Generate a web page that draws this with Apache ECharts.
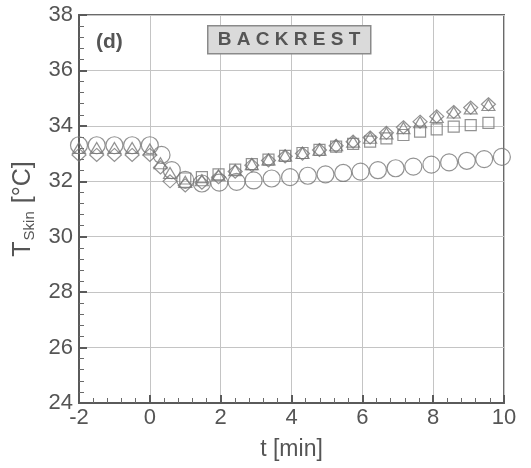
<!DOCTYPE html>
<html><head><meta charset="utf-8">
<script src="https://cdn.jsdelivr.net/npm/echarts@6/dist/echarts.min.js"></script>
<style>html,body{margin:0;padding:0;background:#fff}#c{width:531px;height:468px}</style>
</head><body><div id="c"></div>
<script>
// time stamps [min]
const tCircle = [-2,-1.5,-1,-0.5,0,0.33,0.62,1.0,1.47,1.96,2.45,2.93,3.44,3.96,4.46,4.96,5.46,5.95,6.44,6.94,7.44,7.95,8.45,8.95,9.44,9.94];
const tOther  = [-2,-1.5,-1,-0.5,0,0.3,0.57,1.0,1.47,1.94,2.41,2.88,3.35,3.82,4.31,4.79,5.26,5.74,6.22,6.68,7.16,7.63,8.1,8.58,9.06,9.56];
const tSquare = [1.0,1.47,1.94,2.41,2.88,3.35,3.82,4.31,4.79,5.26,5.74,6.22,6.68,7.16,7.63,8.1,8.58,9.06,9.56];
// skin temperatures [°C]
const circleVals   = [33.3,33.3,33.3,33.3,33.3,32.95,32.4,32.05,31.92,31.95,31.98,32.03,32.1,32.15,32.2,32.25,32.3,32.35,32.4,32.47,32.53,32.6,32.68,32.74,32.8,32.88];
const triangleVals = [33.2,33.2,33.2,33.2,33.15,32.65,32.3,31.98,32.04,32.22,32.4,32.62,32.79,32.93,33.02,33.14,33.3,33.43,33.57,33.73,33.92,34.13,34.32,34.48,34.63,34.75];
const diamondVals  = [32.95,32.95,32.95,32.95,32.95,32.5,32.0,31.85,31.95,32.15,32.35,32.58,32.75,32.9,33.0,33.13,33.28,33.43,33.58,33.75,33.95,34.15,34.34,34.5,34.66,34.78];
const squareVals   = [32.1,32.15,32.25,32.42,32.62,32.78,32.92,33.02,33.13,33.25,33.35,33.43,33.55,33.67,33.79,33.87,33.97,34.03,34.11];
const xTicks = [-2,0,2,4,6,8,10];
const yTicks = [24,26,28,30,32,34,36,38];
const panelLabel = '(d)';
const boxLabel = 'B A C K R E S T';

const pairs = (xs, ys) => xs.map((x, i) => [x, ys[i]]);
const FONT = '"Liberation Sans", Arial, sans-serif';
const TXT = '#555555';
const MK = '#777777';
const hollow = {color: 'rgba(0,0,0,0)', borderColor: MK, borderWidth: 1.2};

const chart = echarts.init(document.getElementById('c'), null, {renderer: 'canvas'});
chart.setOption({
  animation: false,
  backgroundColor: '#fff',
  grid: {left: 79, right: 27, top: 15, bottom: 65, show: true, borderColor: '#6a6a6a', borderWidth: 2, backgroundColor: 'transparent'},
  xAxis: {
    type: 'value', min: xTicks[0], max: xTicks[xTicks.length-1], interval: 2,
    name: 't [min]', nameLocation: 'middle', nameGap: 35,
    nameTextStyle: {fontFamily: FONT, fontSize: 23, color: TXT},
    axisLine: {show: true, onZero: false, lineStyle: {color: '#5a5a5a', width: 2}},
    axisTick: {show: true, inside: true, length: 8, lineStyle: {color: '#5a5a5a', width: 2}},
    minorTick: {show: true, splitNumber: 5, length: 5, lineStyle: {color: '#6a6a6a', width: 1}},
    axisLabel: {fontFamily: FONT, fontSize: 22, color: TXT, margin: 4},
    splitLine: {show: true, lineStyle: {color: '#c4c4c4', width: 1}}
  },
  yAxis: {
    type: 'value', min: yTicks[0], max: yTicks[yTicks.length-1], interval: 2,
    name: '{t|T}{s|Skin}{t| [°C]}', nameLocation: 'middle', nameGap: 41, nameRotate: 90,
    nameTextStyle: {fontFamily: FONT, color: TXT,
      rich: {t: {fontFamily: FONT, fontSize: 25, color: TXT, lineHeight: 28},
             s: {fontFamily: FONT, fontSize: 15, color: TXT, lineHeight: 28, padding: [14, 1, 0, 1]}}},
    axisLine: {show: true, onZero: false, lineStyle: {color: '#5a5a5a', width: 2}},
    axisTick: {show: true, inside: true, length: 8, lineStyle: {color: '#5a5a5a', width: 2}},
    minorTick: {show: true, splitNumber: 5, length: 5, lineStyle: {color: '#6a6a6a', width: 1}},
    axisLabel: {fontFamily: FONT, fontSize: 22, color: TXT, margin: 6},
    splitLine: {show: true, lineStyle: {color: '#c4c4c4', width: 1}}
  },
  graphic: [
    {type: 'rect', left: 207, top: 25, shape: {width: 163, height: 28}, style: {fill: '#dadada', stroke: '#8a8a8a', lineWidth: 1.5}, z: 10},
    {type: 'text', x: 289, y: 40, style: {text: boxLabel, font: 'bold 19px ' + FONT, fill: '#555', align: 'center', verticalAlign: 'middle'}, z: 11},
    {type: 'text', x: 96, y: 42, style: {text: panelLabel, font: 'bold 21px ' + FONT, fill: '#555', align: 'left', verticalAlign: 'middle'}, z: 11}
  ],
  series: [
    {type: 'scatter', name: 'circle', data: pairs(tCircle, circleVals), symbol: 'circle', symbolSize: 17, itemStyle: hollow, z: 3},
    {type: 'scatter', name: 'square', data: pairs(tSquare, squareVals), symbol: 'rect', symbolSize: 11, itemStyle: hollow, z: 4},
    {type: 'scatter', name: 'diamond', data: pairs(tOther, diamondVals), symbol: 'diamond', symbolSize: [14, 13], itemStyle: hollow, z: 5},
    {type: 'scatter', name: 'triangle', data: pairs(tOther, triangleVals), symbol: 'triangle', symbolSize: [13, 11], itemStyle: hollow, z: 6}
  ]
});
</script>
</body></html>
